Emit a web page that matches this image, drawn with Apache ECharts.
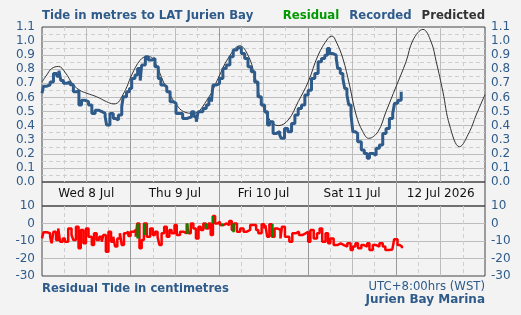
<!DOCTYPE html>
<html>
<head>
<meta charset="UTF-8">
<title>Tide Jurien Bay</title>
<script src="https://cdn.jsdelivr.net/npm/echarts@6/dist/echarts.min.js"></script>
<style>
  html, body { margin: 0; padding: 0; background: #f3f3f3; }
</style>
</head>
<body>
<div id="main" style="width:521px;height:315px;"></div>
<script>
// hours counted from Wed 8 Jul 00:00 (WST)
var dayLabels = { 12: 'Wed 8 Jul', 36: 'Thu 9 Jul', 60: 'Fri 10 Jul', 84: 'Sat 11 Jul', 108: '12 Jul 2026' };

var predHours = [0, 1.3, 2.6, 4.5, 6.2, 8.5, 10.3, 12.1, 14.8, 17.5, 19.3, 20.4, 21.6, 23, 24.3, 26.6, 28.4, 29.7, 31, 32.9, 34.7, 36.5, 38.3, 41,
  45, 47.7, 50.4, 53.6, 55.8, 57.6, 59.4, 61.7, 64, 66.7, 69.4, 72.1, 74.8, 77.5, 78.6, 79.7, 81.5, 83.3, 85.1, 86.9, 88.5,
  91, 93.2, 95.9, 98.6, 100.5, 103.2, 105.4, 106.8, 108.6, 110.4, 113.1, 115.8, 117.6, 120];
var predLevels = [0.71, 0.76, 0.805, 0.82, 0.78, 0.69, 0.65, 0.63, 0.605, 0.57, 0.555, 0.56, 0.605, 0.676, 0.76, 0.865, 0.89, 0.884, 0.83, 0.71, 0.617, 0.546, 0.50, 0.487,
  0.594, 0.735, 0.877, 0.967, 0.90, 0.76, 0.57, 0.44, 0.40, 0.44, 0.57, 0.71, 0.90, 1.02, 1.035, 0.995, 0.877, 0.688, 0.475, 0.357, 0.31,
  0.357, 0.50, 0.676, 0.853, 1.007, 1.083, 0.995, 0.853, 0.64, 0.404, 0.25, 0.357, 0.475, 0.62];

var recHours = [0, 0.4, 1.3, 2.2, 3.1, 4, 4.6, 5.1, 5.8, 6.7, 7.6, 8.5, 9.4, 10, 10.7, 11.7, 12.6, 13.5, 14.4, 15.3, 16.2, 17.1, 17.5, 18.4, 19.3, 20, 20.7, 21.6, 22, 22.9, 23.7,
  24.3, 25.2, 25.9, 26.6, 27, 28, 28.8, 29.7, 30.6, 31.5, 32.2, 33.1, 33.8, 34.7, 35.6, 36.3, 37.2, 38.1, 39.2,
  40.5, 41.2, 41.8, 42.3, 43.6, 44.5, 45.2, 45.9, 46.3, 47.3, 48.1, 49, 49.9, 50.9, 51.8, 52.7, 53.1, 54, 54.9, 55.8, 56.7, 57.6, 58.5, 59.4, 60.3, 61.1, 61.7, 62.6, 63.5, 64.4, 64.8,
  65.7, 66.6, 67.6, 68.5, 69.4, 70.3, 71.2, 72.1, 73, 73.9, 74.8, 75.7, 76.6, 77.3, 77.9, 78.8, 79.7,
  80.1, 80.8, 81.5, 82, 82.6, 83.1, 83.7, 84.2, 84.9, 85.5, 86.5, 87.3, 88.1, 88.7, 89.6, 90.5, 91.4, 92.3, 93.2, 94.1, 95, 95.5, 96.4, 97.3];
var recLevels = [0.63, 0.68, 0.69, 0.71, 0.77, 0.75, 0.79, 0.72, 0.70, 0.71, 0.69, 0.64, 0.65, 0.546, 0.58, 0.57, 0.546, 0.487, 0.51, 0.50, 0.487, 0.463, 0.404, 0.487, 0.45, 0.44, 0.475, 0.534, 0.605, 0.64, 0.664,
  0.735, 0.76, 0.806, 0.72, 0.83, 0.889, 0.865, 0.877, 0.818, 0.735, 0.688, 0.676, 0.64, 0.57, 0.558, 0.487, 0.487, 0.45, 0.463,
  0.499, 0.463, 0.428, 0.499, 0.522, 0.546, 0.593, 0.57, 0.688, 0.70, 0.735, 0.806, 0.83, 0.889, 0.936, 0.924, 0.953, 0.912, 0.877, 0.818, 0.782, 0.71, 0.605, 0.546, 0.499, 0.404, 0.428, 0.345, 0.357, 0.333, 0.31,
  0.38, 0.357, 0.416, 0.475, 0.522, 0.546, 0.617, 0.652, 0.735, 0.77, 0.853, 0.877, 0.90, 0.948, 0.912, 0.90, 0.877,
  0.806, 0.77, 0.735, 0.664, 0.617, 0.546, 0.475, 0.357, 0.345, 0.286, 0.227, 0.203, 0.168, 0.203, 0.19, 0.239, 0.262, 0.345, 0.38, 0.45, 0.487, 0.558, 0.58, 0.64];

var resHours = [0, 0.4, 1.3, 2.2, 2.6, 3.1, 3.8, 4.4, 4.9, 5.6, 6.2, 7.1, 8, 8.5, 9.2, 9.9, 10.5, 11.2, 11.9, 12.6, 13.5, 14.1, 14.8, 15.5, 16.2, 16.6, 17.3, 18, 18.7, 19.3, 19.8,
  20.4, 21.1, 21.6, 22.2, 22.8, 23.4, 24, 24.8, 25.4, 25.8, 26.4, 27, 27.6, 28.4, 29.3, 30, 30.6, 31.3, 31.8, 32.4, 33.1, 33.8, 34.5, 35.1, 35.9, 36.5, 37.4, 38.3, 39.2, 39.7,
  40.3, 41, 41.7, 42.4, 43, 43.7, 44.4, 45.1, 45.7, 46.3, 46.9, 47.5, 48.2, 49.1, 50, 50.7, 51.4, 52, 52.8, 53.7, 54.6, 55.5, 56.4, 57.3, 58, 58.6, 59.5, 60.2,
  60.5, 61, 61.6, 62.3, 63, 63.7, 64.6, 65, 65.8, 66.4, 67, 67.8, 68.7, 69.6, 70.5, 71.4, 72.1, 72.7, 73.6, 74.5, 75.2, 75.9, 76.8, 77.5, 78.1, 79, 80,
  80.9, 81.8, 82.7, 83.6, 84.2, 84.9, 85.6, 86.5, 87.2, 88.1, 88.7, 89.6, 90.5, 91.4, 92.3, 93, 94, 94.9, 95.4, 96.3, 96.9, 97.5];
var resValues = [-8.5, -5, -5.6, -7.5, -11.3, -4.7, -9.4, -2.8, -10.4, -8.5, -10.4, -2.8, -6.6, -9.4, -1.8, -14.2, -3.7, -11.3, -2.8, -7.5, -12.3, -5.6, -9.4, -7.5, -10.4, -6.6, -16.1, -4.7, -10.4, -7.5, -13.2,
  -8.5, -5.6, -12.3, -5.6, -4.7, -7.2, -4.7, -3.7, -7.5, 0, -14.2, -9.4, 0, -7.5, -2.8, -6.6, -4.7, -7.5, -12.3, -5.6, -1.8, -7.5, -3.7, -5.6, -0.9, -6.6, -4.7, -5.6, 0, -5.6,
  0, -2.8, -8.5, -1.8, -3.7, 0, -2.8, 0, -6.6, 4.3, 0, 1, -0.9, 0, -0.9, 1.5, -3.7, 0, -4.7, -2.8, -4.7, -3.7, -0.9, -0.9, -3.7, -5.6, -0.4, -2.8,
  -0.9, -7.5, -0.4, -7.5, -2.8, -3.7, -8.5, -1.8, -7.5, -7.5, -10.4, -5.6, -4.7, -6.6, -5.6, -4.7, -10.4, -3.7, -8.5, -5.6, -2.8, -10.4, -5.6, -11.3, -8.5, -12.3, -11.3,
  -12.3, -13.2, -11.3, -15.1, -13.2, -11.3, -14.2, -12.3, -13.2, -11.3, -15.1, -12.3, -13.2, -11.3, -13.2, -15.1, -14.8, -15.1, -9, -12.3, -13.2, -14.2];

// flagged residual steps drawn in green
var greenHours = [25.9, 27.9, 39.4, 44.4, 46.3, 48.8, 51.9, 62.4];
var greenTop = [0, 0, 0, 0, 4.3, 0, 0, -0.3];
var greenBottom = [-8.5, -6.6, -6, -2.8, 0, -1.5, -5, -7.9];

function pairs(xs, ys) {
  return xs.map(function (x, i) { return [x, ys[i]]; });
}
var greenData = [];
greenHours.forEach(function (h, i) {
  greenData.push([h, greenTop[i]], [h, greenBottom[i]], [h, '-']);
});

var blue = '#2e5b8a';
var font = 'DejaVu Sans';
var solidGrid = { show: true, showMinLine: false, showMaxLine: false, lineStyle: { color: '#bdbdbd', width: 1 } };
var dashGrid = { show: true, lineStyle: { color: '#cfcfcf', width: 1, type: [4, 3] } };

var myChart = echarts.init(document.getElementById('main'));
myChart.setOption({
  backgroundColor: '#f3f3f3',
  animation: false,
  textStyle: { fontFamily: font },
  title: [
    { text: 'Tide in metres to LAT Jurien Bay', left: 42, top: 10, padding: 0,
      textStyle: { fontSize: 11.7, fontWeight: 'bold', color: blue, fontFamily: font } },
    { text: 'Residual Tide in centimetres', left: 42, top: 283, padding: 0,
      textStyle: { fontSize: 11.6, fontWeight: 'bold', color: blue, fontFamily: font } },
    { text: 'UTC+8:00hrs (WST)', right: 36, top: 281, padding: 0,
      textStyle: { fontSize: 11.7, fontWeight: 'normal', color: blue, fontFamily: font } },
    { text: 'Jurien Bay Marina', right: 36, top: 294, padding: 0,
      textStyle: { fontSize: 12, fontWeight: 'bold', color: blue, fontFamily: font } }
  ],
  legend: {
    right: 36, top: 10, padding: 0, itemGap: 5, itemWidth: 0, itemHeight: 0, icon: 'none',
    selectedMode: false,
    textStyle: { fontSize: 11.7, fontWeight: 'bold', fontFamily: font, padding: 0 },
    data: [
      { name: 'Residual', textStyle: { color: '#009900' } },
      { name: 'Recorded', textStyle: { color: blue } },
      { name: 'Predicted', textStyle: { color: '#333333' } }
    ]
  },
  grid: [
    { left: 42, top: 27, width: 443, height: 155, show: true, borderColor: '#444', borderWidth: 1, backgroundColor: 'transparent' },
    { left: 42, top: 182, width: 443, height: 24, show: true, borderColor: '#444', borderWidth: 1, backgroundColor: 'transparent' },
    { left: 42, top: 206, width: 443, height: 70, show: true, borderColor: '#444', borderWidth: 1, backgroundColor: 'transparent' },
    { left: 42, top: 27, width: 443, height: 249 }
  ],
  xAxis: [
    { gridIndex: 0, type: 'value', min: 0, max: 120, interval: 12,
      axisLine: { show: false }, axisTick: { show: false },
      axisLabel: { margin: 6, fontSize: 12, color: '#111', fontFamily: font,
        formatter: function (v) { return dayLabels[v] || ''; } },
      splitLine: solidGrid, minorTick: { show: false, splitNumber: 2 }, minorSplitLine: dashGrid },
    { gridIndex: 1, type: 'value', min: 0, max: 120, show: false },
    { gridIndex: 2, type: 'value', min: 0, max: 120, interval: 12,
      axisLine: { show: false }, axisTick: { show: false }, axisLabel: { show: false },
      splitLine: solidGrid, minorTick: { show: false, splitNumber: 2 }, minorSplitLine: dashGrid },
    { gridIndex: 3, type: 'value', min: 0, max: 120, interval: 24,
      axisLine: { show: false }, axisTick: { show: false }, axisLabel: { show: false },
      splitLine: { show: true, showMinLine: false, showMaxLine: false, lineStyle: { color: '#9a9a9a', width: 1 } } }
  ],
  yAxis: [
    { gridIndex: 0, type: 'value', min: 0, max: 1.1, interval: 0.1, position: 'left',
      axisLine: { show: false }, axisTick: { show: false },
      axisLabel: { margin: 7, fontSize: 12, color: blue, fontFamily: font, formatter: function (v) { return v.toFixed(1); } },
      splitLine: solidGrid, minorTick: { show: false, splitNumber: 2 }, minorSplitLine: dashGrid },
    { gridIndex: 0, type: 'value', min: 0, max: 1.1, interval: 0.1, position: 'right',
      axisLine: { show: false }, axisTick: { show: false }, splitLine: { show: false },
      axisLabel: { margin: 6, fontSize: 12, color: blue, fontFamily: font, formatter: function (v) { return v.toFixed(1); } } },
    { gridIndex: 1, type: 'value', min: 0, max: 1, show: false },
    { gridIndex: 2, type: 'value', min: -30, max: 10, interval: 10, position: 'left',
      axisLine: { show: false }, axisTick: { show: false },
      axisLabel: { margin: 7, fontSize: 12, color: blue, fontFamily: font },
      splitLine: solidGrid },
    { gridIndex: 2, type: 'value', min: -30, max: 10, interval: 10, position: 'right',
      axisLine: { show: false }, axisTick: { show: false }, splitLine: { show: false },
      axisLabel: { margin: 6, fontSize: 12, color: blue, fontFamily: font } },
    { gridIndex: 3, type: 'value', min: 0, max: 1, show: false }
  ],
  series: [
    { name: 'Predicted', type: 'line', xAxisIndex: 0, yAxisIndex: 0, smooth: 0.4,
      showSymbol: false, symbol: 'none', color: '#333333',
      lineStyle: { color: '#333333', width: 1 }, data: pairs(predHours, predLevels) },
    { name: 'Recorded', type: 'line', xAxisIndex: 0, yAxisIndex: 0, step: 'end',
      showSymbol: false, symbol: 'none', color: blue,
      lineStyle: { color: blue, width: 3 }, data: pairs(recHours, recLevels) },
    { name: 'Residual', type: 'line', xAxisIndex: 2, yAxisIndex: 3, step: 'end',
      showSymbol: false, symbol: 'none', color: '#009900',
      lineStyle: { color: '#ff0000', width: 2.5 }, data: pairs(resHours, resValues) },
    { name: 'Residual flagged', type: 'line', xAxisIndex: 2, yAxisIndex: 3,
      showSymbol: false, symbol: 'none', connectNulls: false,
      lineStyle: { color: '#008800', width: 2.5 }, data: greenData }
  ]
});
</script>
</body>
</html>
